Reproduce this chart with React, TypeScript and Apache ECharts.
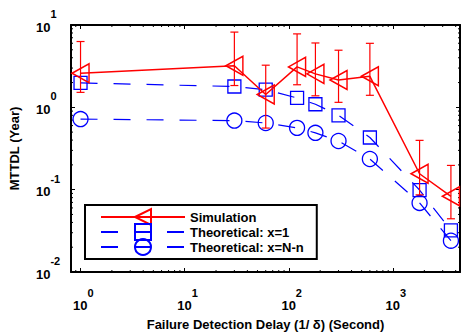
import React, { useEffect, useRef } from "react";
import * as echarts from "echarts";

// ---- data ----
const delays = [1, 30, 60, 120, 180, 300, 600, 1800, 3600];
const simulation = [2.6, 3.2, 1.43, 3.1, 2.55, 2.15, 2.38, 0.156, 0.083];
const simLow = [1.52, 1.84, 0.56, 1.88, 1.38, 1.15, 1.4, 0.0865, 0.0443];
const simHigh = [6.3, 8.2, 3.25, 7.8, 6.05, 4.94, 5.99, 0.397, 0.197];
const theoX1 = [1.98, 1.79, 1.64, 1.3, 1.09, 0.8, 0.43, 0.099, 0.032];
const theoXNn = [0.72, 0.69, 0.645, 0.563, 0.49, 0.39, 0.236, 0.069, 0.024];
const seriesNames = ["Simulation", "Theoretical: x=1", "Theoretical: x=N-n"];
const xMin = 0.81;
const xMax = 4400;
const yMin = 0.01;
const yMax = 10;

const FONT = "'Liberation Sans', Arial, Helvetica, sans-serif";
const RED = "#ff0000";
const BLUE = "#0000ff";

const expOf = (v: number) => {
  const e = Math.round(Math.log10(v));
  return e === 0 ? "0" : String(e);
};

export default function App() {
  const ref = useRef<HTMLDivElement>(null);
  useEffect(() => {
    if (!ref.current) return;
    const chart = echarts.init(ref.current, undefined, { renderer: "svg" });

    const axisLine = { show: true, lineStyle: { color: "#000", width: 2 } };
    const axisTick = { show: true, inside: true, length: 4, lineStyle: { color: "#000", width: 1 } };

    const base = { fontWeight: "bold", fontFamily: FONT, color: "#000" };
    const xRich = {
      b: { ...base, fontSize: 13, lineHeight: 13, verticalAlign: "bottom", padding: [0, 0, 0, 6] },
      s: { ...base, fontSize: 11, lineHeight: 11, verticalAlign: "top" },
      h: { fontSize: 1, lineHeight: 25, verticalAlign: "middle", color: "rgba(0,0,0,0)" },
    };
    const yRich = {
      b: { ...base, fontSize: 13, lineHeight: 13, verticalAlign: "bottom" },
      s: { ...base, fontSize: 11, lineHeight: 11, verticalAlign: "top" },
      h: { fontSize: 1, lineHeight: 25, verticalAlign: "middle", color: "rgba(0,0,0,0)" },
    };

    const errData = delays.map((d, i) => [d, simLow[i], simHigh[i]]);

    chart.setOption({
      animation: false,
      grid: { left: 71, right: 1, top: 25, bottom: 59, containLabel: false },
      xAxis: [
        {
          type: "log",
          min: xMin,
          max: xMax,
          axisLine,
          axisTick,
          splitLine: { show: false },
          axisLabel: {
            margin: 15,
            showMinLabel: false,
            showMaxLabel: false,
            formatter: (v: number) => `{b|10}{s|${expOf(v)}}{h| }`,
            rich: xRich,
          },
          name: "Failure Detection Delay (1/ δ) (Second)",
          nameLocation: "middle",
          nameGap: 46,
          nameTextStyle: { fontFamily: FONT, fontWeight: "bold", fontSize: 13, color: "#000" },
        },
        {
          type: "log",
          position: "top",
          min: xMin,
          max: xMax,
          axisLine,
          axisTick,
          splitLine: { show: false },
          axisLabel: { show: false },
        },
      ],
      yAxis: [
        {
          type: "log",
          min: yMin,
          max: yMax,
          axisLine,
          axisTick,
          splitLine: { show: false },
          axisLabel: {
            margin: 35,
            align: "left",
            padding: [0, 0, 8, 0],
            formatter: (v: number) => `{b|10}{s|${expOf(v)}}{h| }`,
            rich: yRich,
          },
          name: "MTTDL (Year)",
          nameLocation: "middle",
          nameGap: 50,
          nameTextStyle: { fontFamily: FONT, fontWeight: "bold", fontSize: 13, color: "#000" },
        },
        {
          type: "log",
          position: "right",
          min: yMin,
          max: yMax,
          axisLine,
          axisTick,
          splitLine: { show: false },
          axisLabel: { show: false },
        },
      ],
      legend: {
        orient: "vertical",
        left: 85,
        top: 205,
        data: seriesNames,
        itemWidth: 84,
        itemHeight: 20,
        itemGap: -3,
        padding: [3, 13, 3, 15],
        borderColor: "#000",
        borderWidth: 2,
        borderRadius: 0,
        backgroundColor: "#fff",
        selectedMode: false,
        textStyle: { fontFamily: FONT, fontWeight: "bold", fontSize: 13, color: "#000" },
      },
      series: [
        {
          name: seriesNames[0],
          type: "line",
          data: delays.map((d, i) => [d, simulation[i]]),
          symbol: "path://M0,10L18,0L18,20Z",
          symbolSize: [17, 19],
          symbolKeepAspect: false,
          lineStyle: { color: RED, width: 1.5 },
          itemStyle: { color: "rgba(0,0,0,0)", borderColor: RED, borderWidth: 1.5 },
          z: 4,
        },
        {
          name: seriesNames[1],
          type: "line",
          data: delays.map((d, i) => [d, theoX1[i]]),
          symbol: "rect",
          symbolSize: 13,
          lineStyle: { color: BLUE, width: 1.2, type: [17, 16] },
          itemStyle: { color: "rgba(0,0,0,0)", borderColor: BLUE, borderWidth: 1.3 },
          z: 3,
        },
        {
          name: seriesNames[2],
          type: "line",
          data: delays.map((d, i) => [d, theoXNn[i]]),
          symbol: "circle",
          symbolSize: 15,
          lineStyle: { color: BLUE, width: 1.2, type: [17, 16] },
          itemStyle: { color: "rgba(0,0,0,0)", borderColor: BLUE, borderWidth: 1.3 },
          z: 3,
        },
        {
          name: "errorbars",
          type: "custom",
          data: errData,
          encode: { x: 0, y: [1, 2] },
          z: 5,
          renderItem: (params: any, api: any) => {
            const x = api.value(0);
            const lo = api.coord([x, api.value(1)]);
            const hi = api.coord([x, api.value(2)]);
            const w = 4;
            const st = { stroke: RED, lineWidth: 1.2 };
            return {
              type: "group",
              children: [
                { type: "line", shape: { x1: lo[0], y1: lo[1], x2: hi[0], y2: hi[1] }, style: st },
                { type: "line", shape: { x1: lo[0] - w, y1: lo[1], x2: lo[0] + w, y2: lo[1] }, style: st },
                { type: "line", shape: { x1: hi[0] - w, y1: hi[1], x2: hi[0] + w, y2: hi[1] }, style: st },
              ],
            };
          },
        },
      ],
    });

    // minor ticks for the log axes, positioned through the axes' own scales
    const xb = chart.convertToPixel({ yAxisIndex: 0 }, yMin) as number;
    const xt = chart.convertToPixel({ yAxisIndex: 0 }, yMax) as number;
    const yl = chart.convertToPixel({ xAxisIndex: 0 }, xMin) as number;
    const yr = chart.convertToPixel({ xAxisIndex: 0 }, xMax) as number;
    const minor: any[] = [];
    const ml = 2;
    const ls = { stroke: "#000", lineWidth: 1 };
    for (let k = -1; k <= 3; k++) {
      for (let m = 2; m <= 9; m++) {
        const v = m * Math.pow(10, k);
        if (v <= xMin || v >= xMax) continue;
        const px = chart.convertToPixel({ xAxisIndex: 0 }, v) as number;
        minor.push({ type: "line", shape: { x1: px, y1: xb, x2: px, y2: xb - ml }, style: ls, silent: true });
        minor.push({ type: "line", shape: { x1: px, y1: xt, x2: px, y2: xt + ml }, style: ls, silent: true });
      }
    }
    for (let k = -2; k <= 0; k++) {
      for (let m = 2; m <= 9; m++) {
        const v = m * Math.pow(10, k);
        if (v <= yMin || v >= yMax) continue;
        const py = chart.convertToPixel({ yAxisIndex: 0 }, v) as number;
        minor.push({ type: "line", shape: { x1: yl, y1: py, x2: yl + ml, y2: py }, style: ls, silent: true });
        minor.push({ type: "line", shape: { x1: yr, y1: py, x2: yr - ml, y2: py }, style: ls, silent: true });
      }
    }
    chart.setOption({ graphic: minor });

    return () => chart.dispose();
  }, []);
  return <div ref={ref} style={{ width: 461, height: 336, position: "absolute", left: 0, top: 0 }} />;
}
